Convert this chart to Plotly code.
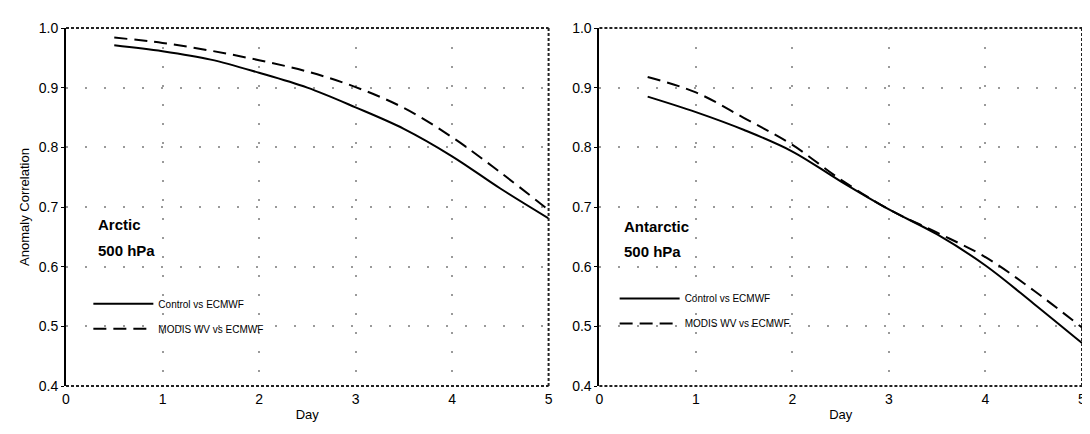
import plotly.graph_objects as go
from plotly.subplots import make_subplots

days = [0.5, 1.0, 1.5, 2.0, 2.5, 3.0, 3.5, 4.0, 4.5, 5.0]
arctic_control = [0.971, 0.961, 0.947, 0.925, 0.900, 0.867, 0.831, 0.785, 0.731, 0.681]
arctic_modis = [0.984, 0.975, 0.962, 0.946, 0.927, 0.901, 0.866, 0.817, 0.758, 0.695]
antarctic_control = [0.885, 0.859, 0.829, 0.793, 0.743, 0.696, 0.654, 0.602, 0.538, 0.472]
antarctic_modis = [0.918, 0.892, 0.849, 0.804, 0.746, 0.696, 0.657, 0.616, 0.560, 0.498]
series_names = ["Control vs ECMWF", "MODIS WV vs ECMWF"]
panel_names = ["Arctic", "Antarctic"]
panel_level = "500 hPa"
x_ticks = [0, 1, 2, 3, 4, 5]
y_ticks = [0.4, 0.5, 0.6, 0.7, 0.8, 0.9, 1.0]
y_ticklabels = ["0.4", "0.5", "0.6", "0.7", "0.8", "0.9", "1.0"]

FONT = "Liberation Sans Narrow, Arial Narrow, Liberation Sans, Arial"

fig = make_subplots(rows=1, cols=2, horizontal_spacing=0.05)

panels = [(arctic_control, arctic_modis, "legend"), (antarctic_control, antarctic_modis, "legend2")]
for i, (ctrl, modis, lg) in enumerate(panels):
    col = i + 1
    fig.add_trace(go.Scatter(x=days, y=ctrl, mode="lines", name=series_names[0],
                             line=dict(color="black", width=2, shape="spline"),
                             legend=lg, legendgroup=f"c{i}"), row=1, col=col)
    fig.add_trace(go.Scatter(x=days, y=modis, mode="lines", name=series_names[1],
                             line=dict(color="black", width=2, dash="13px,7px", shape="spline"),
                             legend=lg, legendgroup=f"m{i}"), row=1, col=col)

axis_common = dict(showgrid=True, gridcolor="#9a9a9a", gridwidth=1.5, griddash="2px,17px",
                   zeroline=False, ticks="outside", tickcolor="black",
                   tickfont=dict(family=FONT, size=14, color="black"))
for i in range(2):
    col = i + 1
    fig.update_xaxes(range=[0, 5], tickvals=x_ticks, showline=False, ticklen=0,
                     ticklabeloverflow="allow",
                     title=dict(text="Day", font=dict(family=FONT, size=13, color="black"), standoff=4),
                     row=1, col=col, **axis_common)
    fig.update_yaxes(range=[0.4, 1.0], tickvals=y_ticks, ticktext=y_ticklabels, ticklen=3,
                     showline=True, linecolor="black", linewidth=2,
                     row=1, col=col, **axis_common)
fig.update_yaxes(title=dict(text="Anomaly Correlation", font=dict(family=FONT, size=13, color="black"),
                            standoff=6), row=1, col=1)

# dotted frame (top, right, bottom)
for xr, yr in [("x domain", "y domain"), ("x2 domain", "y2 domain")]:
    for (x0, y0, x1, y1) in [(0, 1, 1, 1), (1, 0, 1, 1), (0, 0, 1, 0)]:
        fig.add_shape(type="line", xref=xr, yref=yr, x0=x0, y0=y0, x1=x1, y1=y1,
                      line=dict(color="#222", width=2, dash="3px,2px"))

# panel labels
for i, (xr, yr) in enumerate([("x", "y"), ("x2", "y2")]):
    x0 = [0.31, 0.23][i]
    fig.add_annotation(x=x0, y=[0.671, 0.667][i], xref=xr, yref=yr, text=f"<b>{panel_names[i]}</b>",
                       showarrow=False, xanchor="left", yanchor="middle",
                       font=dict(family=FONT, size=15, color="black"))
    fig.add_annotation(x=x0, y=[0.627, 0.626][i], xref=xr, yref=yr, text=f"<b>{panel_level}</b>",
                       showarrow=False, xanchor="left", yanchor="middle",
                       font=dict(family=FONT, size=15, color="black"))

legend_common = dict(bgcolor="rgba(0,0,0,0)", font=dict(family=FONT, size=10, color="black"),
                     itemwidth=60, tracegroupgap=6, yanchor="top", xanchor="left")
fig.update_layout(
    width=1090, height=434,
    margin=dict(l=58, r=13, t=16, b=56),
    plot_bgcolor="white", paper_bgcolor="white",
    showlegend=True,
    legend=dict(x=0.022, y=0.27, **legend_common),
    legend2=dict(x=0.540, y=0.285, **legend_common),
)

fig.write_html("out.html")
